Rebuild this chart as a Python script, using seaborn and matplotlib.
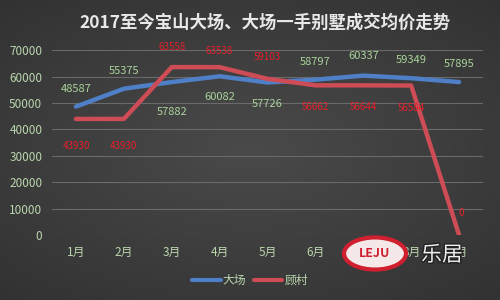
import matplotlib
matplotlib.use("Agg")
import matplotlib.pyplot as plt
import matplotlib.patheffects as pe
import seaborn as sns
import numpy as np
import pandas as pd
from matplotlib.patches import Ellipse
from matplotlib.lines import Line2D

months = ["1月", "2月", "3月", "4月", "5月", "6月", "7月", "8月", "9月"]
dachang = [48587, 55375, 57882, 60082, 57726, 58797, 60337, 59349, 57895]
gucun = [43930, 43930, 63558, 63538, 59103, 56662, 56644, 56584, 0]
series_names = ["大场", "顾村"]
title = "2017至今宝山大场、大场一手别墅成交均价走势"

sns.set_theme(style="dark")
plt.rcParams['font.family'] = ['Noto Sans CJK SC', 'DejaVu Sans']

df = pd.DataFrame({
    "idx": list(range(len(months))) * 2,
    "value": dachang + gucun,
    "series": [series_names[0]] * len(months) + [series_names[1]] * len(months),
})

fig = plt.figure(figsize=(5, 3), dpi=100)
# background gradient
bg = fig.add_axes([0, 0, 1, 1], zorder=-10)
yy, xx = np.mgrid[-1:1:300j, -1:1:500j]
r = np.sqrt(xx**2 * 0.8 + yy**2)
grad = 0.29 - 0.07 * r
bg.imshow(np.dstack([grad, grad, grad]).clip(0, 1), aspect='auto', extent=[0, 1, 0, 1])
bg.axis('off')

ax = fig.add_axes([0.104, 0.217, 0.862, 0.616])
ax.set_facecolor('none')
palette = {"大场": "#4f7fc6", "顾村": "#cd4c55"}
sns.lineplot(data=df, x="idx", y="value", hue="series", palette=palette,
             linewidth=3.2, ax=ax, legend=False, sort=False)

ax.set_xlim(-0.5, len(months) - 0.5)
ax.set_ylim(0, 70000)
ax.set_yticks(range(0, 70001, 10000))
ax.set_xticks(range(len(months)))
ax.set_xticklabels(months)
ax.tick_params(colors='#b9d6ad', labelsize=8.5, length=0)
ax.tick_params(axis='x', pad=8)
ax.tick_params(axis='y', pad=7)
ax.grid(axis='y', color='#6a6a6a', linewidth=0.8)
ax.grid(axis='x', visible=False)
for s in ax.spines.values():
    s.set_visible(False)
ax.set_xlabel("")
ax.set_ylabel("")

# data labels
blue_off = [18, 18, -30, -21, -21, 18, 20, 18, 18]
for i, v in enumerate(dachang):
    ax.annotate(f"{v}", (i, v), xytext=(0, blue_off[i]), textcoords='offset pixels',
                ha='center', va='center', color='#a9d39b', fontsize=8)
red_off = [-27, -27, 20, 16, 22, -22, -22, -22, 22]
red_dx = [0, 0, 0, 0, 0, 0, 0, 0, 2]
for i, v in enumerate(gucun):
    ax.annotate(f"{v}", (i, v), xytext=(red_dx[i], red_off[i]), textcoords='offset pixels',
                ha='center', va='center', color='#e8202a', fontsize=7)

fig.text(0.53, 0.925, title, ha='center', va='center', color='#e8e8e8',
         fontsize=12.5, fontweight='bold')

# legend
handles = [Line2D([], [], color=palette[n], linewidth=3) for n in series_names]
leg = fig.legend(handles, series_names, loc='center', bbox_to_anchor=(0.5, 0.065),
                 ncol=2, frameon=False, fontsize=8.5, handlelength=2.4,
                 columnspacing=0.6, handletextpad=0.2)
for t in leg.get_texts():
    t.set_color('#b9d6ad')

# watermark logo
fig.patches.append(Ellipse((0.75, 0.155), 0.124, 0.107, transform=fig.transFigure,
                           facecolor='#f4e8e8', edgecolor='#d02030', linewidth=3, zorder=5))
fig.text(0.75, 0.155, "LEJU", ha='center', va='center', color='#d02030',
         fontsize=9, fontweight='bold', zorder=6)
fig.text(0.884, 0.15, "乐居", ha='center', va='center', color='#f0f0f0',
         fontsize=15, zorder=6,
         path_effects=[pe.withStroke(linewidth=2, foreground='#222222')])

fig.savefig("out.png", dpi=100)
